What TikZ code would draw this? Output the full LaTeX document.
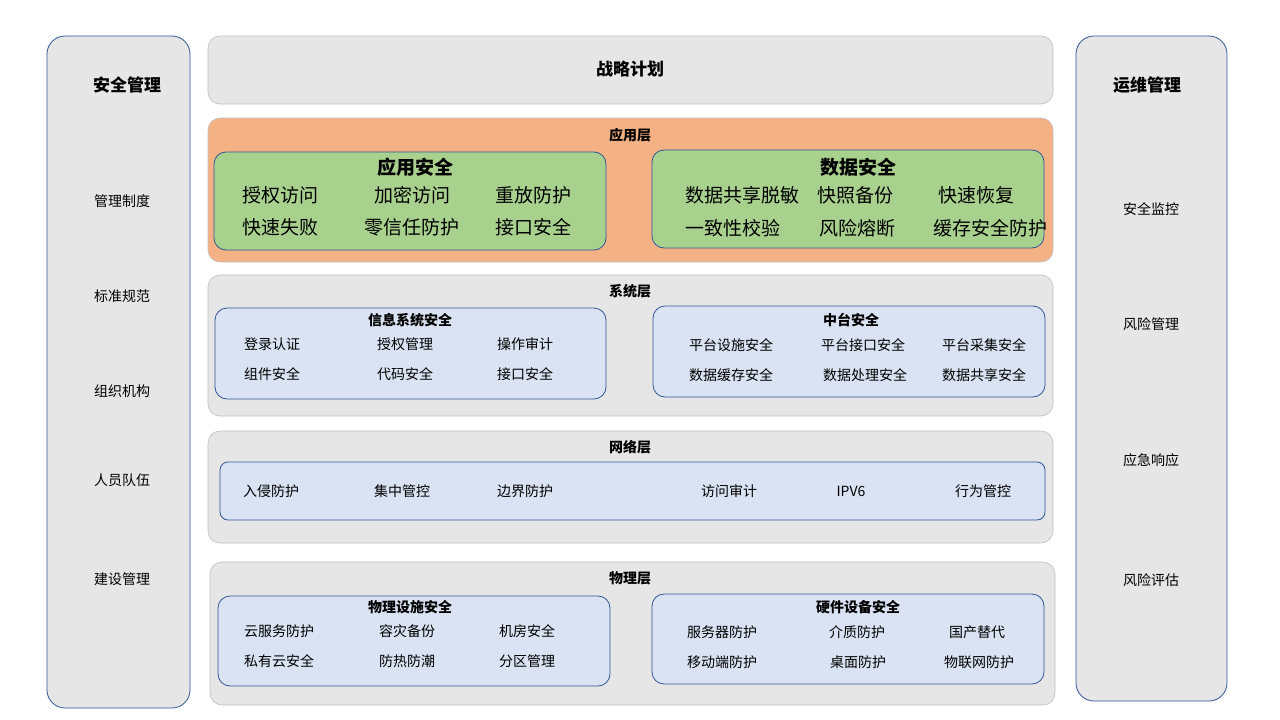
\documentclass[tikz,border=0pt]{standalone}
\usepackage{fontspec}
\setmainfont{Noto Sans CJK SC}
\usetikzlibrary{positioning}
\definecolor{panelgray}{HTML}{E7E6E6}
\definecolor{edgegray}{HTML}{BFBFBF}
\definecolor{edgeblue}{HTML}{2F5597}
\definecolor{appfill}{HTML}{F4B183}
\definecolor{greenfill}{HTML}{A9D18E}
\definecolor{bluefill}{HTML}{DAE3F3}
\tikzstyle{side} = [draw=edgeblue, fill=panelgray, rounded corners=18pt, line width=0.8pt]
\tikzstyle{layer} = [draw=edgegray, fill=panelgray, rounded corners=12pt, line width=0.6pt]
\tikzstyle{inner} = [draw=edgeblue, fill=bluefill, rounded corners=12pt, line width=0.8pt]
\tikzstyle{item} = [font=\fontsize{14}{16}\selectfont]
\tikzstyle{big} = [font=\fontsize{19}{21}\selectfont]
\tikzstyle{head} = [font=\fontsize{14}{16}\selectfont\bfseries]
\begin{document}
\begin{tikzpicture}[x=1pt, y=-1pt]
\useasboundingbox (0,0) rectangle (1280,720);
% side panels
\draw[side] (47,36) rectangle (190,708);
\draw[side] (1076,36) rectangle (1227,701);
\node[font=\fontsize{17}{19}\selectfont\bfseries] (mgmt) at (127,85) {安全管理};
\node[font=\fontsize{17}{19}\selectfont\bfseries] (ops) at (1147,85) {运维管理};
\foreach \t/\y in {管理制度/201, 标准规范/296, 组织机构/391, 人员队伍/480, 建设管理/579}
  \node[item] at (122,\y) {\t};
\foreach \t/\y in {安全监控/209, 风险管理/324, 应急响应/460, 风险评估/580}
  \node[item] at (1151,\y) {\t};
% strategy
\draw[layer] (208,36) rectangle (1053,104);
\node[font=\fontsize{17}{19}\selectfont\bfseries] (plan) at (630,69) {战略计划};
% application layer
\draw[layer, fill=appfill] (208,118) rectangle (1053,262);
\node[head] (app) at (630,135) {应用层};
\draw[inner, fill=greenfill] (214,152) rectangle (606,250);
\draw[inner, fill=greenfill] (652,150) rectangle (1044,248);
\node[font=\fontsize{19}{21}\selectfont\bfseries] (appsec) at (415,167) {应用安全};
\node[font=\fontsize{19}{21}\selectfont\bfseries] (datasec) at (858,167) {数据安全};
\foreach \t/\x/\y in {授权访问/280/195, 加密访问/412/195, 重放防护/533/195,
  快速失败/280/227, 零信任防护/412/227, 接口安全/533/227,
  数据共享脱敏/742/195, 快照备份/855/195, 快速恢复/976/195,
  一致性校验/733/228, 风险熔断/857/228, 缓存安全防护/990/228}
  \node[big] at (\x,\y) {\t};
% system layer
\draw[layer] (208,275) rectangle (1053,416);
\node[head] (sys) at (630,291) {系统层};
\draw[inner] (215,308) rectangle (606,399);
\draw[inner] (653,306) rectangle (1045,397);
\node[head] (infosec) at (410,320) {信息系统安全};
\node[head] (midsec) at (851,320) {中台安全};
\foreach \t/\x/\y in {登录认证/272/344, 授权管理/405/344, 操作审计/525/344,
  组件安全/272/374, 代码安全/405/374, 接口安全/525/374,
  平台设施安全/731/345, 平台接口安全/863/345, 平台采集安全/984/345,
  数据缓存安全/731/375, 数据处理安全/865/375, 数据共享安全/984/375}
  \node[item] at (\x,\y) {\t};
% network layer
\draw[layer] (208,431) rectangle (1053,543);
\node[head] (net) at (630,447) {网络层};
\draw[inner, rounded corners=8pt] (220,462) rectangle (1045,520);
\foreach \t/\x in {入侵防护/271, 集中管控/402, 边界防护/525, 访问审计/729, IPV6/851, 行为管控/983}
  \node[item] at (\x,491) {\t};
% physical layer
\draw[layer] (210,562) rectangle (1055,705);
\node[head] (phy) at (630,578) {物理层};
\draw[inner] (218,596) rectangle (610,686);
\draw[inner] (652,594) rectangle (1044,684);
\node[head] (facsec) at (410,607) {物理设施安全};
\node[head] (hwsec) at (858,607) {硬件设备安全};
\foreach \t/\x/\y in {云服务防护/279/631, 容灾备份/407/631, 机房安全/527/631,
  私有云安全/279/661, 防热防潮/407/661, 分区管理/527/661,
  服务器防护/722/632, 介质防护/857/632, 国产替代/977/632,
  移动端防护/722/662, 桌面防护/858/662, 物联网防护/979/662}
  \node[item] at (\x,\y) {\t};
\end{tikzpicture}
\end{document}
